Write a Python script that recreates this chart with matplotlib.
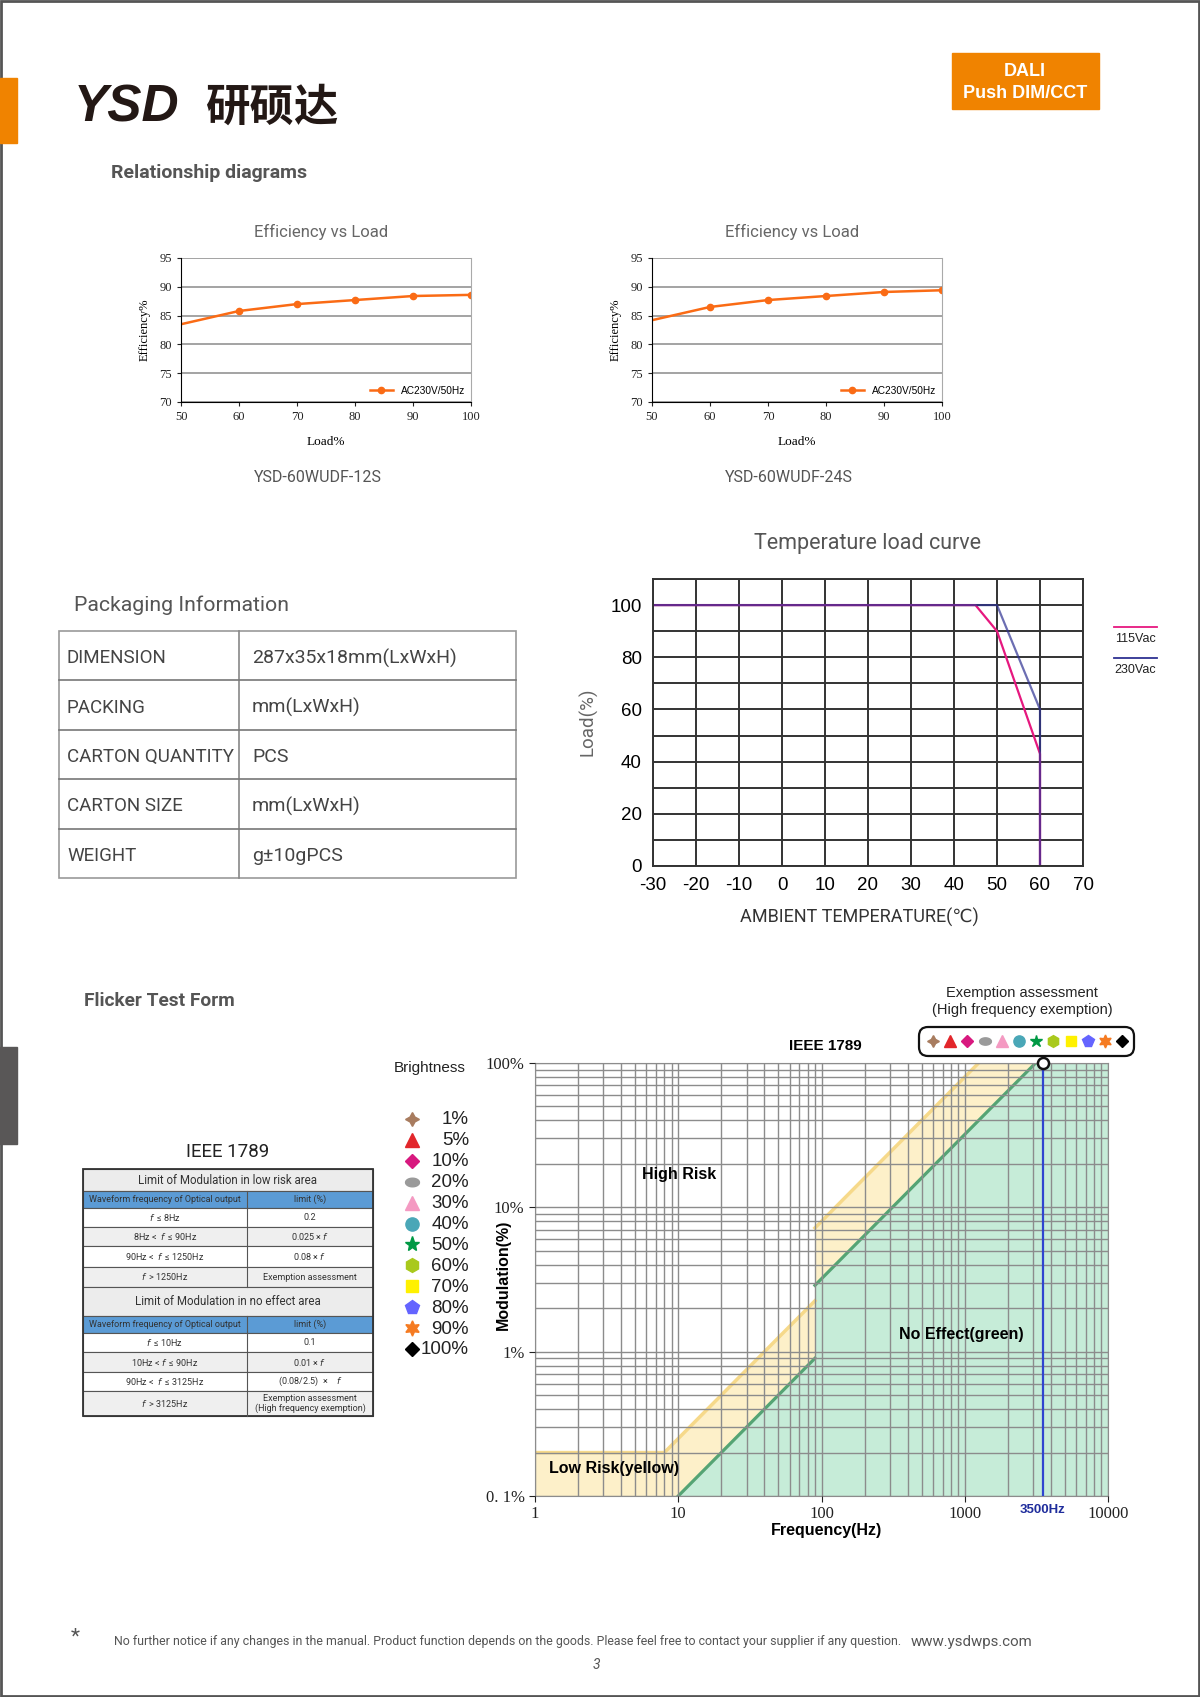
import numpy as np
import matplotlib
matplotlib.use("Agg")
import matplotlib.pyplot as plt
from matplotlib.patches import Rectangle, FancyBboxPatch
from matplotlib.lines import Line2D

plt.rcParams['font.family'] = ['Roboto', 'DejaVu Sans']
plt.rcParams['axes.unicode_minus'] = False

W, H = 1200, 1697

# efficiency vs load
load_pct = [50, 60, 70, 80, 90, 100]
eff_12s = [83.5, 85.8, 87.0, 87.7, 88.4, 88.6]
eff_24s = [84.2, 86.5, 87.7, 88.4, 89.1, 89.4]
eff_models = ["YSD-60WUDF-12S", "YSD-60WUDF-24S"]

# temperature derating
temp_115 = [-30, 45, 50, 60, 60]
load_115 = [100, 100, 90, 43, 0]
temp_230 = [-30, 50, 60, 60]
load_230 = [100, 100, 60, 0]

# packaging
pack_labels = ["DIMENSION", "PACKING", "CARTON QUANTITY", "CARTON SIZE", "WEIGHT"]
pack_values = ["287x35x18mm(LxWxH)", "mm(LxWxH)", "PCS", "mm(LxWxH)", "g±10gPCS"]

# IEEE 1789 limits
low_f = [1, 8, 90, 90, 1250]
low_m = [0.2, 0.2, 2.25, 7.2, 100]
noeff_f = [10, 90, 90, 3125]
noeff_m = [0.1, 0.9, 2.88, 100]
test_freq = 3500

brightness = ["1%", "5%", "10%", "20%", "30%", "40%", "50%", "60%", "70%", "80%", "90%", "100%"]
b_colors = ["#a87c5f", "#e2262b", "#d8197f", "#9a9a9a", "#f49ac2", "#4aa7b7",
            "#009944", "#a9c91c", "#fff100", "#6464ff", "#f57b22", "#000000"]
t = np.linspace(0, 2 * np.pi, 40)
ellipse = list(zip(np.cos(t), 0.62 * np.sin(t)))
b_markers = [(4, 1, 0), "^", "D", ellipse, "^", "o", "*", "h", "s", "p", (6, 1, 0), "D"]
b_sizes = [10, 10, 7.5, 10, 10, 9.5, 11, 10, 8.5, 10, 11, 7.5]

ieee_rows = [
    ("title", "Limit of Modulation in low risk area", ""),
    ("head", "Waveform frequency of Optical output", "limit (%)"),
    ("w", r"$f$  ≤ 8Hz", "0.2"),
    ("g", r"8Hz <  $f$  ≤ 90Hz", r"0.025 × $f$"),
    ("w", r"90Hz <  $f$  ≤ 1250Hz", r"0.08 × $f$"),
    ("g", r"$f$  > 1250Hz", "Exemption assessment"),
    ("title", "Limit of Modulation in no effect area", ""),
    ("head", "Waveform frequency of Optical output", "limit (%)"),
    ("w", r"$f$  ≤ 10Hz", "0.1"),
    ("g", r"10Hz < $f$  ≤ 90Hz", r"0.01 × $f$"),
    ("w", r"90Hz <  $f$  ≤ 3125Hz", r"(0.08/2.5)  ×    $f$"),
    ("g", r"$f$  > 3125Hz", "Exemption assessment\n(High frequency exemption)"),
]
ieee_edges = [1169, 1191, 1208, 1227, 1246, 1267, 1287, 1316, 1333, 1352, 1372, 1391, 1416]


def ax_px(l, t, r, b):
    return fig.add_axes([l / W, 1 - b / H, (r - l) / W, (b - t) / H])


fig = plt.figure(figsize=(12, 16.97), dpi=100)

bg = fig.add_axes([0, 0, 1, 1])
bg.set_xlim(0, W)
bg.set_ylim(H, 0)
bg.axis("off")
bg.set_zorder(10)

# page frame and header
bg.add_patch(Rectangle((1, 1), W - 2, H - 2, fill=False, ec="#555", lw=2))
bg.add_patch(Rectangle((0, 78), 17, 65, color="#f08300"))
bg.add_patch(Rectangle((0, 1047), 17, 97, color="#595757"))
bg.text(74, 108, "YSD", fontsize=37, fontweight="bold", style="italic",
        family="Liberation Sans", va="center", color="#231815")
bg.text(205, 108, "研硕达", fontsize=32, fontweight="bold",
        family=["Noto Sans CJK SC", "DejaVu Sans"], va="center", color="#231815")
bg.add_patch(Rectangle((952, 53), 147, 56, color="#f08300"))
bg.text(1025, 71, "DALI", fontsize=13, fontweight="bold", color="white",
        family="Liberation Sans", ha="center", va="center")
bg.text(1025, 93, "Push DIM/CCT", fontsize=13, fontweight="bold", color="white",
        family="Liberation Sans", ha="center", va="center")
bg.text(111, 173, "Relationship diagrams", fontsize=14, fontweight="bold",
        color="#555", va="center")

# efficiency charts
for i, (eff, model) in enumerate(zip([eff_12s, eff_24s], eff_models)):
    left = [181, 652][i]
    ax = ax_px(left, 258, left + 290, 402)
    ax.plot(load_pct, eff, color="#fa6b15", lw=1.8, marker="o", ms=4.5,
            markevery=list(range(1, len(load_pct))), label="AC230V/50Hz")
    ax.set_xlim(50, 100)
    ax.set_ylim(70, 95)
    ax.set_xticks(load_pct)
    ax.set_yticks(range(70, 96, 5))
    ax.yaxis.grid(True, color="#8a8a8a", lw=1.1)
    ax.set_axisbelow(True)
    ax.spines["top"].set_visible(False)
    ax.spines["right"].set_color("#aaa")
    ax.tick_params(labelsize=9, length=3, colors="#222")
    for lab in ax.get_xticklabels() + ax.get_yticklabels():
        lab.set_family("Liberation Serif")
    ax.set_xlabel("Load%", family="Liberation Serif", fontsize=9.5, labelpad=9)
    ax.set_ylabel("Efficiency%", family="Liberation Serif", fontsize=9, labelpad=6)
    ax.legend(loc="lower right", frameon=False, handlelength=2.2,
              borderaxespad=0.2, prop={"family": "Liberation Sans", "size": 7.3})
    cx = left + 140
    bg.text(cx, 232, "Efficiency vs Load", fontsize=12, color="#666",
            ha="center", va="center")
    bg.text(cx - 3, 477, model, fontsize=11.5, color="#555", ha="center", va="center")

# temperature load curve
ax = ax_px(653, 579, 1083, 866)
ax.plot(temp_115, load_115, color="#e6187f", lw=1.6)
ax.plot(temp_230, load_230, color="#2e3192", lw=1.6, alpha=0.7)
ax.set_xlim(-30, 70)
ax.set_ylim(0, 110)
ax.set_xticks(range(-30, 71, 10))
ax.set_yticks(range(0, 111, 10))
ax.set_yticklabels([str(v) if v % 20 == 0 and v <= 100 else "" for v in range(0, 111, 10)])
ax.grid(True, color="#333", lw=1.4)
for s in ax.spines.values():
    s.set_color("#333")
    s.set_linewidth(1.4)
ax.tick_params(length=0, labelsize=13.5, pad=8)
for lab in ax.get_xticklabels() + ax.get_yticklabels():
    lab.set_family("Liberation Sans")
ax.set_axisbelow(True)
bg.text(868, 543, "Temperature load curve", fontsize=15.5, color="#555",
        ha="center", va="center")
bg.text(588, 722, "Load(%)", fontsize=13.5, color="#666", rotation=90,
        ha="center", va="center")
bg.text(859, 917, "AMBIENT TEMPERATURE(℃)", fontsize=13, color="#333",
        ha="center", va="center", family=["Roboto", "DejaVu Sans"])
for j, (col, lab) in enumerate([("#e6187f", "115Vac"), ("#2e3192", "230Vac")]):
    y0 = 627 + j * 31
    bg.add_line(Line2D([1114, 1157], [y0, y0], color=col, lw=1.3))
    bg.text(1135, y0 + 12, lab, fontsize=9, family="Liberation Sans",
            ha="center", va="center", color="#222")

# packaging table
bg.text(74, 605, "Packaging Information", fontsize=15.3, color="#555", va="center")
p_top, p_bot, p_l, p_r, p_mid = 631, 878, 59, 516, 239
row_h = (p_bot - p_top) / len(pack_labels)
bg.add_patch(Rectangle((p_l, p_top), p_r - p_l, p_bot - p_top, fill=False,
                       ec="#999", lw=1.2))
bg.add_line(Line2D([p_mid, p_mid], [p_top, p_bot], color="#888", lw=1.2))
for k, (lab, val) in enumerate(zip(pack_labels, pack_values)):
    yc = p_top + (k + 0.55) * row_h
    if k > 0:
        bg.add_line(Line2D([p_l, p_r], [p_top + k * row_h] * 2, color="#777", lw=1.2))
    bg.text(67, yc, lab, fontsize=13.5, color="#444", va="center")
    bg.text(252, yc, val, fontsize=14, color="#444", va="center")

# flicker section
bg.text(84, 1001, "Flicker Test Form", fontsize=13.8, fontweight="bold",
        color="#555", va="center")
bg.text(228, 1152, "IEEE 1789", fontsize=13.5, color="#222", ha="center", va="center")
t_l, t_mid, t_r = 83, 247, 373
for k, (kind, a, b) in enumerate(ieee_rows):
    y0, y1 = ieee_edges[k], ieee_edges[k + 1]
    fc = {"title": "#ececec", "head": "#5b9bd5", "w": "white", "g": "#efefef"}[kind]
    bg.add_patch(Rectangle((t_l, y0), t_r - t_l, y1 - y0, fc=fc, ec="#555", lw=0.8))
    yc = (y0 + y1) / 2
    if kind == "title":
        bg.text((t_l + t_r) / 2, yc, a, fontsize=8.3, color="#333", ha="center", va="center")
    else:
        fs = 6.5
        bg.text((t_l + t_mid) / 2, yc, a, fontsize=fs, color="#333", ha="center", va="center")
        bg.text((t_mid + t_r) / 2, yc, b, fontsize=fs, color="#333", ha="center",
                va="center", linespacing=1.0)
        bg.add_line(Line2D([t_mid, t_mid], [y0, y1], color="#555", lw=0.8))
bg.add_patch(Rectangle((t_l, ieee_edges[0]), t_r - t_l, ieee_edges[-1] - ieee_edges[0],
                       fill=False, ec="#333", lw=1.3))

# brightness legend
bg.text(430, 1068, "Brightness", fontsize=11, family="Liberation Sans",
        color="#222", ha="center", va="center")
for k, (lab, col, mk, sz) in enumerate(zip(brightness, b_colors, b_markers, b_sizes)):
    y = 1119 + k * 20.9
    bg.plot(412, y, marker=mk, color=col, ms=sz, ls="none")
    bg.text(469, y + 1, lab, fontsize=13.5, family="Liberation Sans", color="#222",
            ha="right", va="center")

# IEEE 1789 flicker chart
ax = ax_px(535, 1063, 1108, 1496)
ax.set_xscale("log")
ax.set_yscale("log")
ax.set_xlim(1, 10000)
ax.set_ylim(0.1, 100)
ax.fill_between(low_f + [10000], low_m + [100], 0.1, color="#fdf0c9", lw=0, zorder=0.5)
ax.fill_between(noeff_f + [10000], noeff_m + [100], 0.1, color="#c6ecd8", lw=0, zorder=0.6)
ax.grid(True, which="both", color="#8c8c8c", lw=1.0, zorder=1)
ax.set_axisbelow(False)
ax.plot(low_f[:3], low_m[:3], color="#f6d98a", lw=2.5, zorder=2)
ax.plot(low_f[3:], low_m[3:], color="#f6d98a", lw=2.5, zorder=2)
ax.plot(noeff_f[:2], noeff_m[:2], color="#55a474", lw=2.3, zorder=2)
ax.plot(noeff_f[2:], noeff_m[2:], color="#55a474", lw=2.3, zorder=2)
ax.axvline(test_freq, color="#2f45d0", lw=1.6, zorder=3)
ax.plot(test_freq, 100, marker="o", ms=8, mfc="white", mec="#111", mew=1.8,
        clip_on=False, zorder=4)
ax.set_xticks([1, 10, 100, 1000, 10000])
ax.set_xticklabels(["1", "10", "100", "1000", "10000"])
ax.set_yticks([0.1, 1, 10, 100])
ax.set_yticklabels(["0. 1%", "1%", "10%", "100%"])
ax.tick_params(which="minor", length=0)
ax.tick_params(which="major", length=4, labelsize=12, colors="#222")
for lab in ax.get_xticklabels() + ax.get_yticklabels():
    lab.set_family("Liberation Serif")
for s in ax.spines.values():
    s.set_color("#8c8c8c")
ax.text(test_freq, -0.032, "3500Hz", transform=ax.get_xaxis_transform(),
        color="#1f2d9c", fontsize=9.5, fontweight="bold", family="Liberation Sans",
        ha="center", va="center")

bg.text(825, 1046, "IEEE 1789", fontsize=11, fontweight="bold",
        family="Liberation Sans", ha="center", va="center")
bg.text(679, 1175, "High Risk", fontsize=11.5, fontweight="bold",
        family="Liberation Sans", ha="center", va="center")
bg.text(961, 1335, "No Effect(green)", fontsize=11.5, fontweight="bold",
        family="Liberation Sans", ha="center", va="center")
bg.text(614, 1469, "Low Risk(yellow)", fontsize=11.5, fontweight="bold",
        family="Liberation Sans", ha="center", va="center")
bg.text(503, 1275, "Modulation(%)", fontsize=11.5, fontweight="bold",
        family="Liberation Sans", rotation=90, ha="center", va="center")
bg.text(827, 1530, "Frequency(Hz)", fontsize=11.5, fontweight="bold",
        family="Liberation Sans", ha="center", va="center")

# exemption box
bg.text(1022, 993, "Exemption assessment", fontsize=10.5, family="Liberation Sans",
        ha="center", va="center", color="#222")
bg.text(1022, 1010, "(High frequency exemption)", fontsize=10.5,
        family="Liberation Sans", ha="center", va="center", color="#222")
bg.add_patch(FancyBboxPatch((919, 1027), 215, 29, boxstyle="round,pad=0,rounding_size=9",
                            fill=False, ec="#111", lw=1.6))
for k, (col, mk, sz) in enumerate(zip(b_colors, b_markers, b_sizes)):
    bg.plot(933 + k * 17.2, 1041, marker=mk, color=col, ms=sz * 0.85, ls="none")

# footer
bg.text(75, 1637, "*", fontsize=15, color="#555", ha="center", va="center")
bg.text(114, 1642, "No further notice if any changes in the manual. Product function "
        "depends on the goods. Please feel free to contact your supplier if any question.",
        fontsize=8.9, color="#555", va="center")
bg.text(911, 1642, "www.ysdwps.com", fontsize=10.8, color="#555", va="center")
bg.text(596, 1665, "3", fontsize=10, style="italic", color="#555", ha="center", va="center")

fig.savefig("out.png", dpi=100)
